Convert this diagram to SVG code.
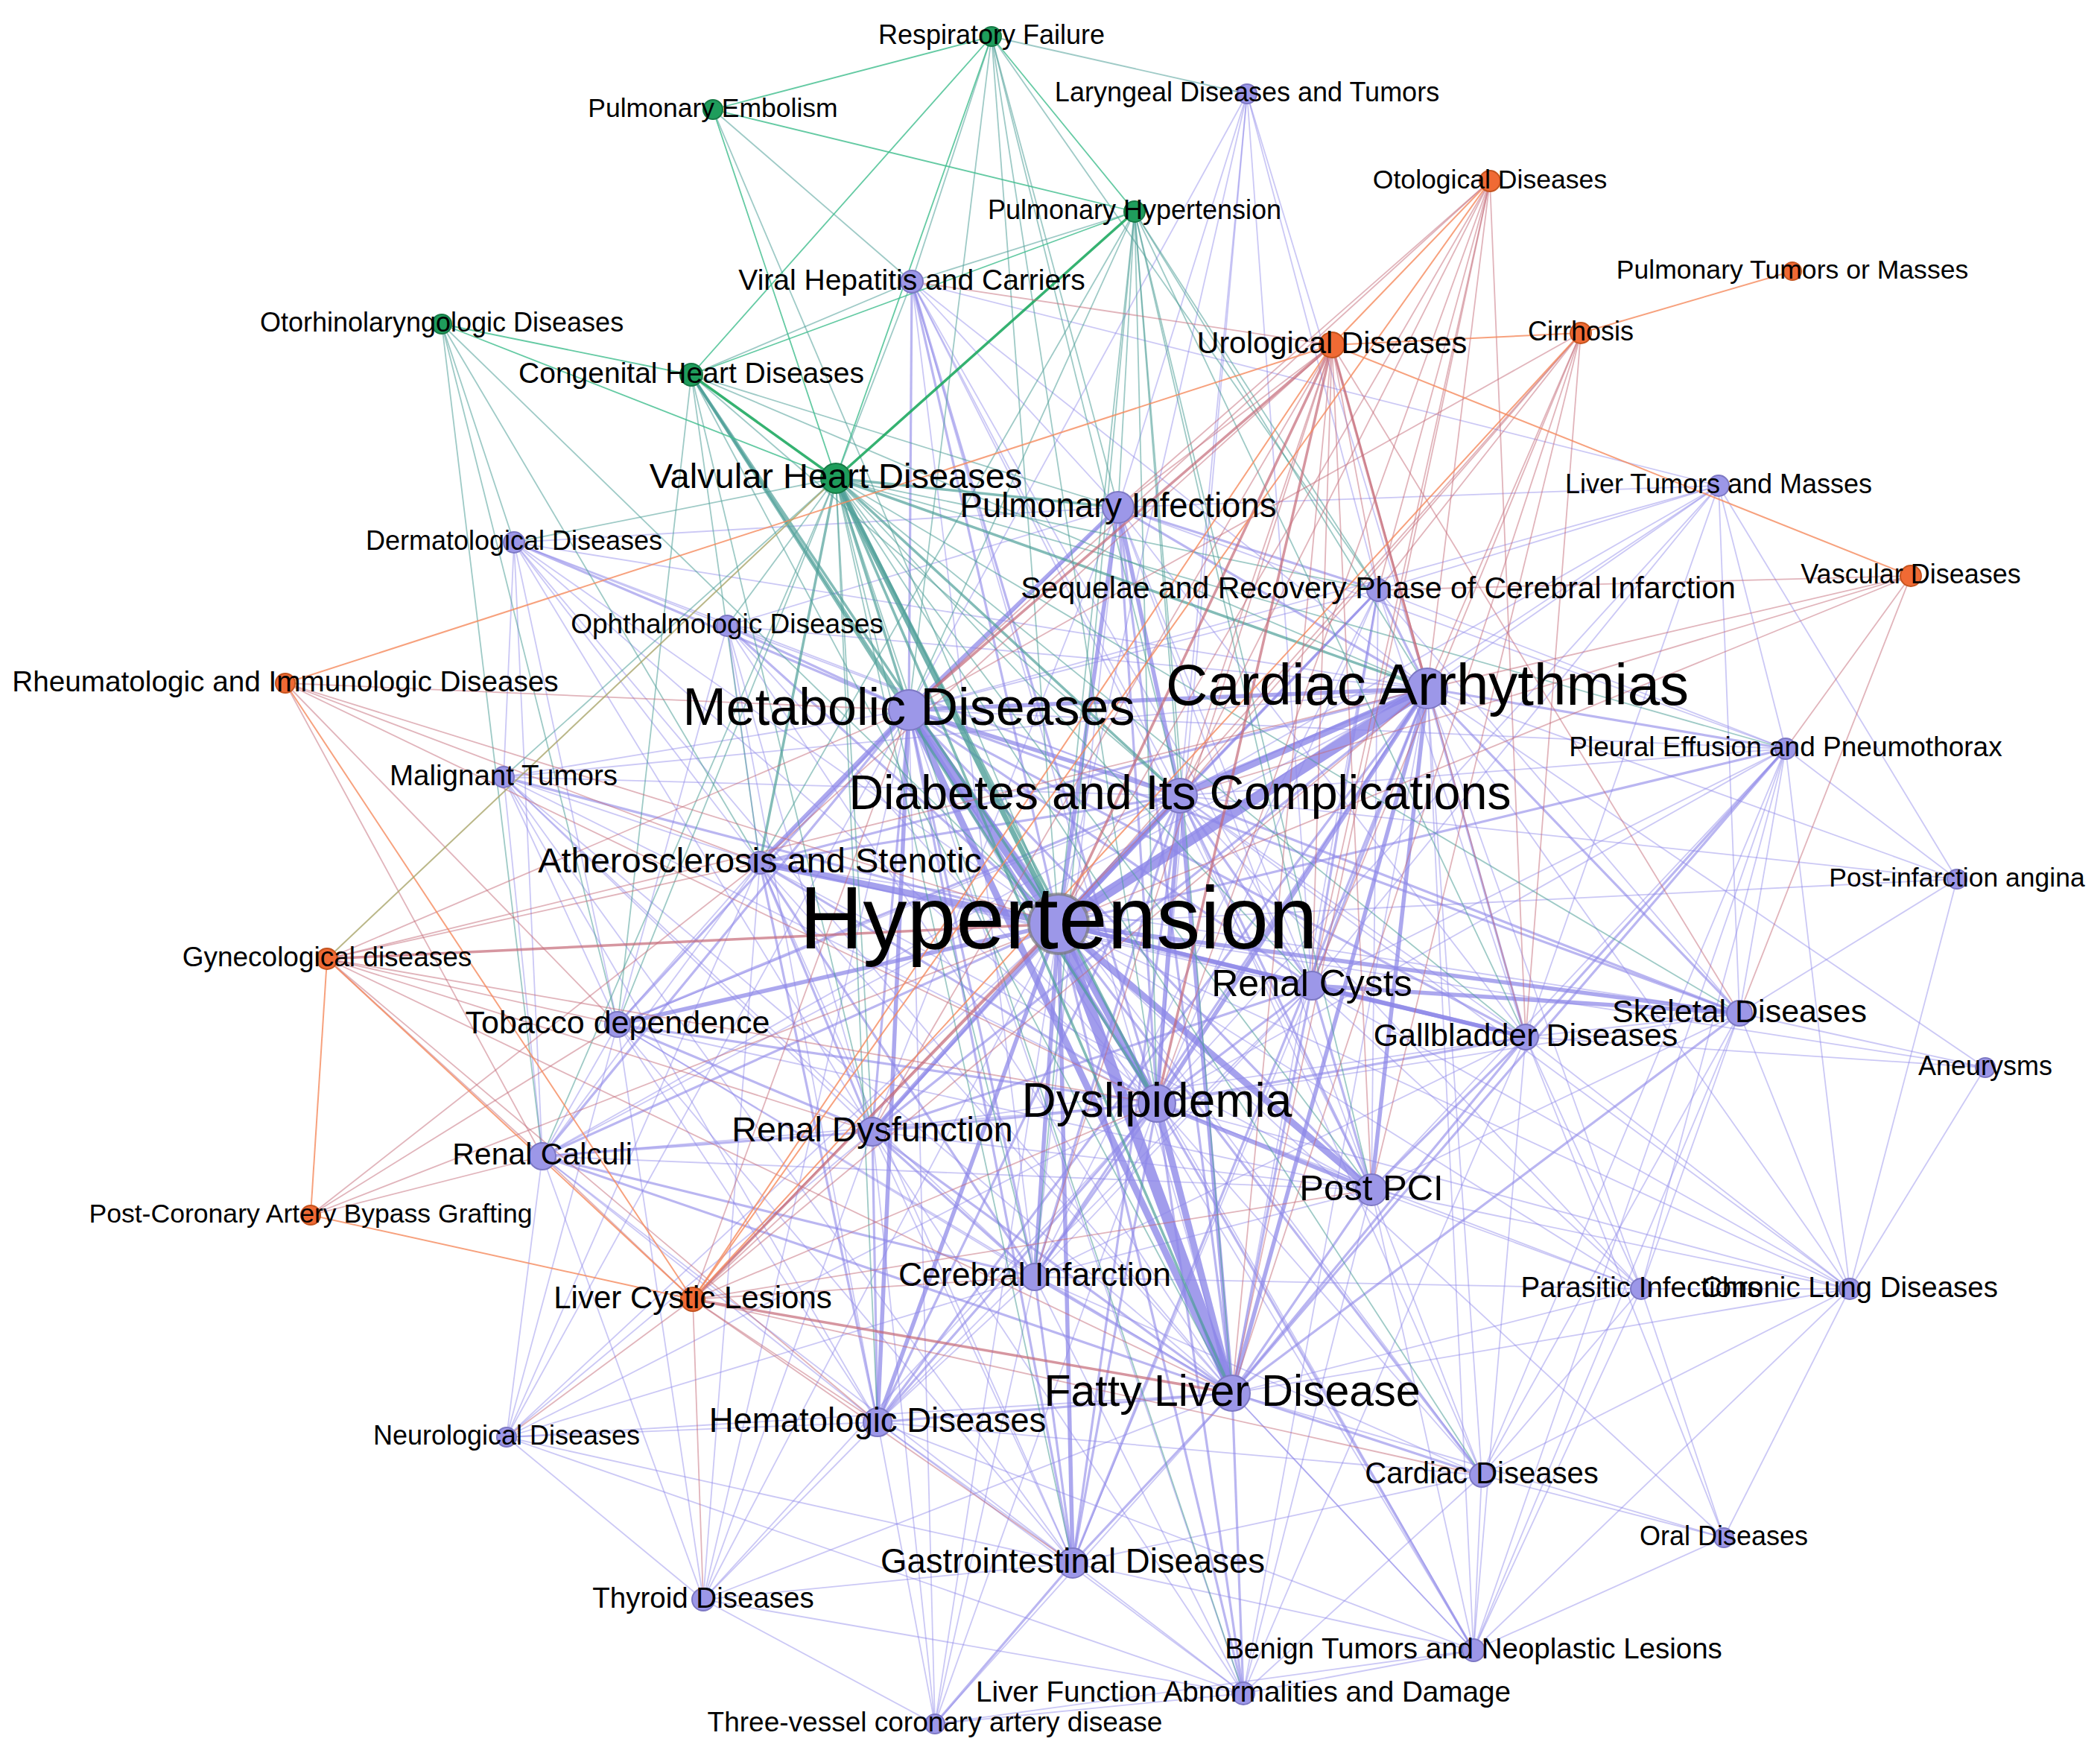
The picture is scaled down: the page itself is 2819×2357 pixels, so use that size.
<svg xmlns="http://www.w3.org/2000/svg" width="2819" height="2357" viewBox="0 0 2819 2357">
<style>
text{font-family:"Liberation Sans",Arial,Helvetica,sans-serif;fill:#000;text-anchor:middle}
.np{fill:#9c97e8;stroke:#7d78c4;stroke-width:2}
.ng{fill:#1f9d5c;stroke:#177a46;stroke-width:2}
.no{fill:#f06a34;stroke:#c4541f;stroke-width:2}
.ring{fill:#9c97e8;stroke:#777;stroke-width:4;stroke-opacity:.7}
.p1{stroke:#8c86e8;stroke-width:1.8;stroke-opacity:.45}
.p2{stroke:#8c86e8;stroke-width:3.2;stroke-opacity:.6}
.p3{stroke:#8c86e8;stroke-width:5.5;stroke-opacity:.72}
.p4{stroke:#8c86e8;stroke-width:9;stroke-opacity:.78}
.p5{stroke:#8c86e8;stroke-width:15;stroke-opacity:.82}
.t1{stroke:#4f9f98;stroke-width:1.8;stroke-opacity:.55}
.t2{stroke:#4f9f98;stroke-width:3.5;stroke-opacity:.7}
.t3{stroke:#4f9f98;stroke-width:7;stroke-opacity:.8}
.g1{stroke:#3dbd8c;stroke-width:1.8;stroke-opacity:.8}
.g2{stroke:#1faa62;stroke-width:3.5;stroke-opacity:.9}
.r1{stroke:#c46a78;stroke-width:1.8;stroke-opacity:.5}
.r2{stroke:#c46a78;stroke-width:3.5;stroke-opacity:.7}
.o1{stroke:#f5895c;stroke-width:2;stroke-opacity:.8}
.ol{stroke:#a9a56a;stroke-width:2;stroke-opacity:.8}
</style>
<rect width="2819" height="2357" fill="#fff"/>
<g id="connectors" fill="none">
<g class="p1">
<line x1="1421" y1="1240" x2="1978" y2="2215"/><line x1="1421" y1="1240" x2="1255" y2="2314"/><line x1="1421" y1="1240" x2="944" y2="2147"/><line x1="1421" y1="1240" x2="680" y2="1929"/><line x1="1421" y1="1240" x2="690" y2="728"/><line x1="1421" y1="1240" x2="2307" y2="652"/><line x1="1421" y1="1240" x2="2627" y2="1180"/><line x1="1421" y1="1240" x2="2665" y2="1433"/><line x1="1421" y1="1240" x2="2203" y2="1730"/><line x1="1421" y1="1240" x2="2483" y2="1730"/><line x1="1421" y1="1240" x2="2314" y2="2064"/><line x1="1421" y1="1240" x2="1674" y2="126"/>
<line x1="1220" y1="953" x2="676" y2="1043"/><line x1="1220" y1="953" x2="1850" y2="792"/><line x1="1220" y1="953" x2="2397" y2="1005"/><line x1="1220" y1="953" x2="1989" y2="1980"/><line x1="1220" y1="953" x2="1669" y2="2273"/><line x1="1220" y1="953" x2="944" y2="2147"/><line x1="1220" y1="953" x2="680" y2="1929"/><line x1="1220" y1="953" x2="1978" y2="2215"/><line x1="1220" y1="953" x2="1255" y2="2314"/><line x1="1220" y1="953" x2="2307" y2="652"/><line x1="1220" y1="953" x2="1674" y2="126"/>
<line x1="1916" y1="924" x2="2307" y2="652"/><line x1="1916" y1="924" x2="1224" y2="378"/><line x1="1916" y1="924" x2="1989" y2="1980"/><line x1="1916" y1="924" x2="2203" y2="1730"/><line x1="1916" y1="924" x2="2483" y2="1730"/><line x1="1916" y1="924" x2="1978" y2="2215"/><line x1="1916" y1="924" x2="1669" y2="2273"/><line x1="1916" y1="924" x2="976" y2="840"/><line x1="1916" y1="924" x2="690" y2="728"/><line x1="1916" y1="924" x2="676" y2="1043"/><line x1="1916" y1="924" x2="728" y2="1552"/><line x1="1916" y1="924" x2="2627" y2="1180"/><line x1="1916" y1="924" x2="2665" y2="1433"/><line x1="1916" y1="924" x2="1674" y2="126"/>
<line x1="1584" y1="1068" x2="2048" y2="1392"/><line x1="1584" y1="1068" x2="829" y2="1375"/><line x1="1584" y1="1068" x2="1224" y2="378"/><line x1="1584" y1="1068" x2="2397" y2="1005"/><line x1="1584" y1="1068" x2="2307" y2="652"/><line x1="1584" y1="1068" x2="1989" y2="1980"/><line x1="1584" y1="1068" x2="976" y2="840"/><line x1="1584" y1="1068" x2="676" y2="1043"/><line x1="1584" y1="1068" x2="1674" y2="126"/><line x1="1584" y1="1068" x2="728" y2="1552"/><line x1="1584" y1="1068" x2="2203" y2="1730"/><line x1="1584" y1="1068" x2="2483" y2="1730"/>
<line x1="1553" y1="1481" x2="2335" y2="1360"/><line x1="1553" y1="1481" x2="1989" y2="1980"/><line x1="1553" y1="1481" x2="2203" y2="1730"/><line x1="1553" y1="1481" x2="2483" y2="1730"/><line x1="1553" y1="1481" x2="1255" y2="2314"/><line x1="1553" y1="1481" x2="728" y2="1552"/><line x1="1553" y1="1481" x2="676" y2="1043"/><line x1="1553" y1="1481" x2="680" y2="1929"/><line x1="1553" y1="1481" x2="944" y2="2147"/><line x1="1553" y1="1481" x2="2397" y2="1005"/>
<line x1="1654" y1="1870" x2="1978" y2="2215"/><line x1="1654" y1="1870" x2="1255" y2="2314"/><line x1="1654" y1="1870" x2="944" y2="2147"/><line x1="1654" y1="1870" x2="1020" y2="1158"/><line x1="1654" y1="1870" x2="829" y2="1375"/><line x1="1654" y1="1870" x2="680" y2="1929"/><line x1="1654" y1="1870" x2="2203" y2="1730"/><line x1="1654" y1="1870" x2="2483" y2="1730"/><line x1="1654" y1="1870" x2="2314" y2="2064"/><line x1="1654" y1="1870" x2="1850" y2="792"/>
<line x1="1761" y1="1323" x2="1389" y2="1714"/><line x1="1761" y1="1323" x2="1440" y2="2098"/><line x1="1761" y1="1323" x2="2397" y2="1005"/><line x1="1761" y1="1323" x2="2483" y2="1730"/><line x1="1761" y1="1323" x2="2203" y2="1730"/><line x1="1761" y1="1323" x2="1178" y2="1909"/><line x1="1761" y1="1323" x2="1020" y2="1158"/>
<line x1="1501" y1="681" x2="1224" y2="378"/><line x1="1501" y1="681" x2="1020" y2="1158"/><line x1="1501" y1="681" x2="1171" y2="1519"/><line x1="1501" y1="681" x2="1389" y2="1714"/><line x1="1501" y1="681" x2="2307" y2="652"/><line x1="1501" y1="681" x2="2397" y2="1005"/><line x1="1501" y1="681" x2="1761" y2="1323"/><line x1="1501" y1="681" x2="1841" y2="1597"/><line x1="1501" y1="681" x2="2048" y2="1392"/><line x1="1501" y1="681" x2="1674" y2="126"/>
<line x1="1224" y1="378" x2="1654" y2="1870"/><line x1="1224" y1="378" x2="1841" y2="1597"/><line x1="1224" y1="378" x2="1389" y2="1714"/><line x1="1224" y1="378" x2="2307" y2="652"/><line x1="1224" y1="378" x2="1761" y2="1323"/>
<line x1="728" y1="1552" x2="1178" y2="1909"/><line x1="728" y1="1552" x2="1440" y2="2098"/><line x1="728" y1="1552" x2="829" y2="1375"/><line x1="728" y1="1552" x2="1020" y2="1158"/><line x1="728" y1="1552" x2="680" y2="1929"/><line x1="728" y1="1552" x2="944" y2="2147"/><line x1="728" y1="1552" x2="1841" y2="1597"/>
<line x1="829" y1="1375" x2="1389" y2="1714"/><line x1="829" y1="1375" x2="1020" y2="1158"/><line x1="829" y1="1375" x2="1178" y2="1909"/><line x1="829" y1="1375" x2="1440" y2="2098"/><line x1="829" y1="1375" x2="1841" y2="1597"/><line x1="829" y1="1375" x2="676" y2="1043"/><line x1="829" y1="1375" x2="680" y2="1929"/><line x1="829" y1="1375" x2="944" y2="2147"/>
<line x1="1020" y1="1158" x2="676" y2="1043"/><line x1="1020" y1="1158" x2="976" y2="840"/><line x1="1020" y1="1158" x2="690" y2="728"/><line x1="1020" y1="1158" x2="1841" y2="1597"/><line x1="1020" y1="1158" x2="1440" y2="2098"/><line x1="1020" y1="1158" x2="680" y2="1929"/><line x1="1020" y1="1158" x2="944" y2="2147"/><line x1="1020" y1="1158" x2="2048" y2="1392"/><line x1="1020" y1="1158" x2="2335" y2="1360"/>
<line x1="1171" y1="1519" x2="1440" y2="2098"/><line x1="1171" y1="1519" x2="1841" y2="1597"/><line x1="1171" y1="1519" x2="680" y2="1929"/><line x1="1171" y1="1519" x2="944" y2="2147"/><line x1="1171" y1="1519" x2="1255" y2="2314"/><line x1="1171" y1="1519" x2="2048" y2="1392"/><line x1="1171" y1="1519" x2="1669" y2="2273"/>
<line x1="1389" y1="1714" x2="1178" y2="1909"/><line x1="1389" y1="1714" x2="1841" y2="1597"/><line x1="1389" y1="1714" x2="1255" y2="2314"/><line x1="1389" y1="1714" x2="1669" y2="2273"/><line x1="1389" y1="1714" x2="1989" y2="1980"/><line x1="1389" y1="1714" x2="2203" y2="1730"/><line x1="1389" y1="1714" x2="2048" y2="1392"/><line x1="1389" y1="1714" x2="680" y2="1929"/>
<line x1="1178" y1="1909" x2="1440" y2="2098"/><line x1="1178" y1="1909" x2="680" y2="1929"/><line x1="1178" y1="1909" x2="944" y2="2147"/><line x1="1178" y1="1909" x2="1255" y2="2314"/><line x1="1178" y1="1909" x2="1669" y2="2273"/><line x1="1178" y1="1909" x2="1978" y2="2215"/><line x1="1178" y1="1909" x2="1989" y2="1980"/>
<line x1="1440" y1="2098" x2="1669" y2="2273"/><line x1="1440" y1="2098" x2="1978" y2="2215"/><line x1="1440" y1="2098" x2="944" y2="2147"/><line x1="1440" y1="2098" x2="1989" y2="1980"/><line x1="1440" y1="2098" x2="680" y2="1929"/>
<line x1="1841" y1="1597" x2="2335" y2="1360"/><line x1="1841" y1="1597" x2="1989" y2="1980"/><line x1="1841" y1="1597" x2="2203" y2="1730"/><line x1="1841" y1="1597" x2="2483" y2="1730"/><line x1="1841" y1="1597" x2="1669" y2="2273"/><line x1="1841" y1="1597" x2="2397" y2="1005"/>
<line x1="2048" y1="1392" x2="2335" y2="1360"/><line x1="2048" y1="1392" x2="2483" y2="1730"/><line x1="2048" y1="1392" x2="2203" y2="1730"/><line x1="2048" y1="1392" x2="1978" y2="2215"/><line x1="2048" y1="1392" x2="2314" y2="2064"/><line x1="2048" y1="1392" x2="1669" y2="2273"/><line x1="2048" y1="1392" x2="2665" y2="1433"/>
<line x1="2335" y1="1360" x2="2397" y2="1005"/><line x1="2335" y1="1360" x2="2483" y2="1730"/><line x1="2335" y1="1360" x2="2665" y2="1433"/><line x1="2335" y1="1360" x2="2203" y2="1730"/><line x1="2335" y1="1360" x2="2627" y2="1180"/><line x1="2335" y1="1360" x2="1989" y2="1980"/><line x1="2335" y1="1360" x2="1978" y2="2215"/><line x1="2335" y1="1360" x2="2307" y2="652"/>
<line x1="2397" y1="1005" x2="2627" y2="1180"/><line x1="2397" y1="1005" x2="2483" y2="1730"/><line x1="2397" y1="1005" x2="2307" y2="652"/><line x1="2397" y1="1005" x2="1850" y2="792"/><line x1="2397" y1="1005" x2="2203" y2="1730"/><line x1="2397" y1="1005" x2="1989" y2="1980"/><line x1="2397" y1="1005" x2="1978" y2="2215"/>
<line x1="2307" y1="652" x2="2627" y2="1180"/><line x1="2307" y1="652" x2="1850" y2="792"/><line x1="2307" y1="652" x2="1761" y2="1323"/><line x1="2307" y1="652" x2="2048" y2="1392"/><line x1="2307" y1="652" x2="1553" y2="1481"/>
<line x1="1989" y1="1980" x2="1978" y2="2215"/><line x1="1989" y1="1980" x2="2314" y2="2064"/><line x1="1989" y1="1980" x2="2203" y2="1730"/><line x1="1989" y1="1980" x2="2483" y2="1730"/><line x1="1989" y1="1980" x2="1669" y2="2273"/>
<line x1="2203" y1="1730" x2="2483" y2="1730"/><line x1="2203" y1="1730" x2="2314" y2="2064"/><line x1="2203" y1="1730" x2="1978" y2="2215"/><line x1="2483" y1="1730" x2="2314" y2="2064"/><line x1="2483" y1="1730" x2="1978" y2="2215"/><line x1="2483" y1="1730" x2="2627" y2="1180"/><line x1="2483" y1="1730" x2="2665" y2="1433"/>
<line x1="680" y1="1929" x2="944" y2="2147"/><line x1="680" y1="1929" x2="1669" y2="2273"/><line x1="944" y1="2147" x2="1255" y2="2314"/><line x1="944" y1="2147" x2="1669" y2="2273"/><line x1="1255" y1="2314" x2="1669" y2="2273"/><line x1="1255" y1="2314" x2="1978" y2="2215"/><line x1="1669" y1="2273" x2="1978" y2="2215"/><line x1="2314" y1="2064" x2="1978" y2="2215"/>
<line x1="1674" y1="126" x2="1850" y2="792"/><line x1="1674" y1="126" x2="1761" y2="1323"/><line x1="1674" y1="126" x2="1553" y2="1481"/>
<line x1="690" y1="728" x2="976" y2="840"/><line x1="690" y1="728" x2="829" y2="1375"/><line x1="690" y1="728" x2="1171" y2="1519"/><line x1="690" y1="728" x2="1584" y2="1068"/><line x1="690" y1="728" x2="676" y2="1043"/><line x1="690" y1="728" x2="1501" y2="681"/><line x1="690" y1="728" x2="1553" y2="1481"/><line x1="690" y1="728" x2="728" y2="1552"/><line x1="690" y1="728" x2="1654" y2="1870"/>
<line x1="976" y1="840" x2="1553" y2="1481"/><line x1="976" y1="840" x2="829" y2="1375"/><line x1="976" y1="840" x2="1501" y2="681"/><line x1="976" y1="840" x2="1171" y2="1519"/><line x1="976" y1="840" x2="1178" y2="1909"/><line x1="976" y1="840" x2="1654" y2="1870"/>
<line x1="676" y1="1043" x2="1171" y2="1519"/><line x1="676" y1="1043" x2="1389" y2="1714"/><line x1="676" y1="1043" x2="1654" y2="1870"/><line x1="676" y1="1043" x2="728" y2="1552"/><line x1="676" y1="1043" x2="1178" y2="1909"/><line x1="676" y1="1043" x2="1440" y2="2098"/>
<line x1="2627" y1="1180" x2="1584" y2="1068"/><line x1="1850" y1="792" x2="1389" y2="1714"/><line x1="1850" y1="792" x2="1553" y2="1481"/><line x1="1850" y1="792" x2="1841" y2="1597"/><line x1="1850" y1="792" x2="2048" y2="1392"/><line x1="1850" y1="792" x2="2335" y2="1360"/>
<line x1="1654" y1="1870" x2="1978" y2="2215"/><line x1="1841" y1="1597" x2="1978" y2="2215"/>
</g>
<g class="p2">
<line x1="1421" y1="1240" x2="728" y2="1552"/><line x1="1421" y1="1240" x2="1850" y2="792"/><line x1="1421" y1="1240" x2="2397" y2="1005"/><line x1="1421" y1="1240" x2="1224" y2="378"/><line x1="1421" y1="1240" x2="1989" y2="1980"/><line x1="1421" y1="1240" x2="1669" y2="2273"/><line x1="1421" y1="1240" x2="976" y2="840"/><line x1="1421" y1="1240" x2="676" y2="1043"/>
<line x1="1220" y1="953" x2="1761" y2="1323"/><line x1="1220" y1="953" x2="1841" y2="1597"/><line x1="1220" y1="953" x2="1389" y2="1714"/><line x1="1220" y1="953" x2="1171" y2="1519"/><line x1="1220" y1="953" x2="1440" y2="2098"/><line x1="1220" y1="953" x2="829" y2="1375"/><line x1="1220" y1="953" x2="1224" y2="378"/><line x1="1220" y1="953" x2="976" y2="840"/><line x1="1220" y1="953" x2="690" y2="728"/><line x1="1220" y1="953" x2="2048" y2="1392"/><line x1="1220" y1="953" x2="2335" y2="1360"/><line x1="1220" y1="953" x2="728" y2="1552"/>
<line x1="1916" y1="924" x2="1501" y2="681"/><line x1="1916" y1="924" x2="1761" y2="1323"/><line x1="1916" y1="924" x2="1020" y2="1158"/><line x1="1916" y1="924" x2="1850" y2="792"/><line x1="1916" y1="924" x2="2397" y2="1005"/><line x1="1916" y1="924" x2="2048" y2="1392"/><line x1="1916" y1="924" x2="2335" y2="1360"/><line x1="1916" y1="924" x2="1389" y2="1714"/><line x1="1916" y1="924" x2="1171" y2="1519"/><line x1="1916" y1="924" x2="1178" y2="1909"/><line x1="1916" y1="924" x2="1440" y2="2098"/><line x1="1916" y1="924" x2="829" y2="1375"/>
<line x1="1584" y1="1068" x2="1761" y2="1323"/><line x1="1584" y1="1068" x2="1841" y2="1597"/><line x1="1584" y1="1068" x2="1020" y2="1158"/><line x1="1584" y1="1068" x2="1389" y2="1714"/><line x1="1584" y1="1068" x2="1171" y2="1519"/><line x1="1584" y1="1068" x2="1178" y2="1909"/><line x1="1584" y1="1068" x2="1440" y2="2098"/><line x1="1584" y1="1068" x2="2335" y2="1360"/><line x1="1584" y1="1068" x2="1850" y2="792"/>
<line x1="1553" y1="1481" x2="1761" y2="1323"/><line x1="1553" y1="1481" x2="1389" y2="1714"/><line x1="1553" y1="1481" x2="1171" y2="1519"/><line x1="1553" y1="1481" x2="1178" y2="1909"/><line x1="1553" y1="1481" x2="1440" y2="2098"/><line x1="1553" y1="1481" x2="1020" y2="1158"/><line x1="1553" y1="1481" x2="829" y2="1375"/><line x1="1553" y1="1481" x2="2048" y2="1392"/><line x1="1553" y1="1481" x2="1501" y2="681"/><line x1="1553" y1="1481" x2="1669" y2="2273"/><line x1="1553" y1="1481" x2="1978" y2="2215"/>
<line x1="1654" y1="1870" x2="1841" y2="1597"/><line x1="1654" y1="1870" x2="1761" y2="1323"/><line x1="1654" y1="1870" x2="1389" y2="1714"/><line x1="1654" y1="1870" x2="1440" y2="2098"/><line x1="1654" y1="1870" x2="1178" y2="1909"/><line x1="1654" y1="1870" x2="1171" y2="1519"/><line x1="1654" y1="1870" x2="2048" y2="1392"/><line x1="1654" y1="1870" x2="2335" y2="1360"/><line x1="1654" y1="1870" x2="2397" y2="1005"/><line x1="1654" y1="1870" x2="1989" y2="1980"/><line x1="1654" y1="1870" x2="1669" y2="2273"/><line x1="1654" y1="1870" x2="1501" y2="681"/>
<line x1="1761" y1="1323" x2="1841" y2="1597"/><line x1="1761" y1="1323" x2="1171" y2="1519"/><line x1="1224" y1="378" x2="1553" y2="1481"/><line x1="728" y1="1552" x2="1171" y2="1519"/><line x1="728" y1="1552" x2="1389" y2="1714"/><line x1="829" y1="1375" x2="1171" y2="1519"/><line x1="1020" y1="1158" x2="1171" y2="1519"/><line x1="1020" y1="1158" x2="1389" y2="1714"/><line x1="1020" y1="1158" x2="1178" y2="1909"/><line x1="1171" y1="1519" x2="1389" y2="1714"/><line x1="1171" y1="1519" x2="1178" y2="1909"/><line x1="1389" y1="1714" x2="1440" y2="2098"/><line x1="1440" y1="2098" x2="1255" y2="2314"/><line x1="1841" y1="1597" x2="2048" y2="1392"/><line x1="2048" y1="1392" x2="2397" y2="1005"/><line x1="1501" y1="681" x2="1850" y2="792"/><line x1="1850" y1="792" x2="1761" y2="1323"/><line x1="728" y1="1552" x2="1654" y2="1870"/>
</g>
<g class="p3">
<line x1="1421" y1="1240" x2="1761" y2="1323"/><line x1="1421" y1="1240" x2="2335" y2="1360"/><line x1="1421" y1="1240" x2="1389" y2="1714"/><line x1="1421" y1="1240" x2="1171" y2="1519"/><line x1="1421" y1="1240" x2="1178" y2="1909"/><line x1="1421" y1="1240" x2="1440" y2="2098"/><line x1="1421" y1="1240" x2="829" y2="1375"/><line x1="1421" y1="1240" x2="1501" y2="681"/><line x1="1421" y1="1240" x2="2048" y2="1392"/>
<line x1="1220" y1="953" x2="1916" y2="924"/><line x1="1220" y1="953" x2="1584" y2="1068"/><line x1="1220" y1="953" x2="1553" y2="1481"/><line x1="1220" y1="953" x2="1020" y2="1158"/><line x1="1220" y1="953" x2="1178" y2="1909"/><line x1="1220" y1="953" x2="1501" y2="681"/>
<line x1="1916" y1="924" x2="1654" y2="1870"/><line x1="1916" y1="924" x2="1553" y2="1481"/><line x1="1916" y1="924" x2="1841" y2="1597"/><line x1="1584" y1="1068" x2="1553" y2="1481"/><line x1="1584" y1="1068" x2="1654" y2="1870"/><line x1="1584" y1="1068" x2="1501" y2="681"/><line x1="1761" y1="1323" x2="2335" y2="1360"/><line x1="1761" y1="1323" x2="2048" y2="1392"/><line x1="1553" y1="1481" x2="1841" y2="1597"/>
</g>
<g class="p4">
<line x1="1421" y1="1240" x2="1584" y2="1068"/><line x1="1421" y1="1240" x2="1553" y2="1481"/><line x1="1421" y1="1240" x2="1020" y2="1158"/><line x1="1421" y1="1240" x2="1841" y2="1597"/><line x1="1916" y1="924" x2="1584" y2="1068"/><line x1="1220" y1="953" x2="1654" y2="1870"/><line x1="1553" y1="1481" x2="1654" y2="1870"/>
</g>
<g class="p5">
<line x1="1421" y1="1240" x2="1220" y2="953"/><line x1="1421" y1="1240" x2="1916" y2="924"/><line x1="1421" y1="1240" x2="1654" y2="1870"/>
</g>
<g class="t1">
<line x1="1331" y1="49" x2="1224" y2="378"/><line x1="1331" y1="49" x2="1501" y2="681"/><line x1="1331" y1="49" x2="1421" y2="1240"/><line x1="1331" y1="49" x2="1220" y2="953"/><line x1="1331" y1="49" x2="1584" y2="1068"/><line x1="1331" y1="49" x2="1674" y2="126"/><line x1="1331" y1="49" x2="1850" y2="792"/><line x1="1331" y1="49" x2="1553" y2="1481"/>
<line x1="957" y1="147" x2="1421" y2="1240"/><line x1="957" y1="147" x2="1224" y2="378"/>
<line x1="1523" y1="284" x2="1224" y2="378"/><line x1="1523" y1="284" x2="1421" y2="1240"/><line x1="1523" y1="284" x2="1220" y2="953"/><line x1="1523" y1="284" x2="1584" y2="1068"/><line x1="1523" y1="284" x2="1916" y2="924"/><line x1="1523" y1="284" x2="1501" y2="681"/><line x1="1523" y1="284" x2="1850" y2="792"/><line x1="1523" y1="284" x2="1761" y2="1323"/><line x1="1523" y1="284" x2="1553" y2="1481"/><line x1="1523" y1="284" x2="1020" y2="1158"/><line x1="1523" y1="284" x2="1654" y2="1870"/><line x1="1523" y1="284" x2="1841" y2="1597"/><line x1="1523" y1="284" x2="2048" y2="1392"/><line x1="1523" y1="284" x2="1389" y2="1714"/>
<line x1="593" y1="435" x2="690" y2="728"/><line x1="593" y1="435" x2="829" y2="1375"/><line x1="593" y1="435" x2="1421" y2="1240"/><line x1="593" y1="435" x2="1020" y2="1158"/><line x1="593" y1="435" x2="728" y2="1552"/>
<line x1="928" y1="503" x2="1020" y2="1158"/><line x1="928" y1="503" x2="1584" y2="1068"/><line x1="928" y1="503" x2="1916" y2="924"/><line x1="928" y1="503" x2="1501" y2="681"/><line x1="928" y1="503" x2="1171" y2="1519"/><line x1="928" y1="503" x2="1654" y2="1870"/><line x1="928" y1="503" x2="829" y2="1375"/><line x1="928" y1="503" x2="1224" y2="378"/>
<line x1="1122" y1="642" x2="1761" y2="1323"/><line x1="1122" y1="642" x2="1841" y2="1597"/><line x1="1122" y1="642" x2="1389" y2="1714"/><line x1="1122" y1="642" x2="1171" y2="1519"/><line x1="1122" y1="642" x2="829" y2="1375"/><line x1="1122" y1="642" x2="690" y2="728"/><line x1="1122" y1="642" x2="976" y2="840"/><line x1="1122" y1="642" x2="676" y2="1043"/><line x1="1122" y1="642" x2="1850" y2="792"/><line x1="1122" y1="642" x2="2048" y2="1392"/><line x1="1122" y1="642" x2="2397" y2="1005"/><line x1="1122" y1="642" x2="2335" y2="1360"/><line x1="1122" y1="642" x2="1178" y2="1909"/><line x1="1122" y1="642" x2="1989" y2="1980"/><line x1="1122" y1="642" x2="1440" y2="2098"/><line x1="1122" y1="642" x2="728" y2="1552"/><line x1="1122" y1="642" x2="1224" y2="378"/><line x1="1122" y1="642" x2="1669" y2="2273"/>
</g>
<g class="t2">
<line x1="1122" y1="642" x2="1220" y2="953"/><line x1="1122" y1="642" x2="1584" y2="1068"/><line x1="1122" y1="642" x2="1916" y2="924"/><line x1="1122" y1="642" x2="1553" y2="1481"/><line x1="1122" y1="642" x2="1654" y2="1870"/><line x1="1122" y1="642" x2="1020" y2="1158"/><line x1="1122" y1="642" x2="1501" y2="681"/><line x1="928" y1="503" x2="1421" y2="1240"/><line x1="928" y1="503" x2="1220" y2="953"/><line x1="928" y1="503" x2="1553" y2="1481"/>
</g>
<g class="t3">
<line x1="1122" y1="642" x2="1421" y2="1240"/>
</g>
<g class="g1">
<line x1="1331" y1="49" x2="957" y2="147"/><line x1="1331" y1="49" x2="1523" y2="284"/><line x1="957" y1="147" x2="1523" y2="284"/><line x1="957" y1="147" x2="1122" y2="642"/><line x1="593" y1="435" x2="928" y2="503"/><line x1="593" y1="435" x2="1122" y2="642"/><line x1="1523" y1="284" x2="928" y2="503"/><line x1="1331" y1="49" x2="1122" y2="642"/><line x1="1331" y1="49" x2="928" y2="503"/>
</g>
<g class="g2">
<line x1="1523" y1="284" x2="1122" y2="642"/><line x1="928" y1="503" x2="1122" y2="642"/>
</g>
<g class="r1">
<line x1="2000" y1="243" x2="1421" y2="1240"/><line x1="2000" y1="243" x2="1220" y2="953"/><line x1="2000" y1="243" x2="1916" y2="924"/><line x1="2000" y1="243" x2="1584" y2="1068"/><line x1="2000" y1="243" x2="1501" y2="681"/><line x1="2000" y1="243" x2="1761" y2="1323"/><line x1="2000" y1="243" x2="1553" y2="1481"/><line x1="2000" y1="243" x2="1850" y2="792"/><line x1="2000" y1="243" x2="1654" y2="1870"/><line x1="2000" y1="243" x2="2048" y2="1392"/>
<line x1="2122" y1="447" x2="1421" y2="1240"/><line x1="2122" y1="447" x2="1916" y2="924"/><line x1="2122" y1="447" x2="1584" y2="1068"/><line x1="2122" y1="447" x2="1220" y2="953"/><line x1="2122" y1="447" x2="1654" y2="1870"/><line x1="2122" y1="447" x2="1761" y2="1323"/><line x1="2122" y1="447" x2="2048" y2="1392"/><line x1="2122" y1="447" x2="1841" y2="1597"/><line x1="2122" y1="447" x2="1850" y2="792"/>
<line x1="1788" y1="463" x2="1501" y2="681"/><line x1="1788" y1="463" x2="1761" y2="1323"/><line x1="1788" y1="463" x2="1654" y2="1870"/><line x1="1788" y1="463" x2="1841" y2="1597"/><line x1="1788" y1="463" x2="1389" y2="1714"/><line x1="1788" y1="463" x2="1850" y2="792"/><line x1="1788" y1="463" x2="1584" y2="1068"/><line x1="1788" y1="463" x2="1224" y2="378"/><line x1="1788" y1="463" x2="2048" y2="1392"/><line x1="1788" y1="463" x2="2335" y2="1360"/><line x1="1788" y1="463" x2="1020" y2="1158"/><line x1="1788" y1="463" x2="1171" y2="1519"/>
<line x1="2565" y1="773" x2="1916" y2="924"/><line x1="2565" y1="773" x2="1850" y2="792"/><line x1="2565" y1="773" x2="1584" y2="1068"/><line x1="2565" y1="773" x2="1421" y2="1240"/><line x1="2565" y1="773" x2="2335" y2="1360"/><line x1="2565" y1="773" x2="2397" y2="1005"/>
<line x1="383" y1="917" x2="1220" y2="953"/><line x1="383" y1="917" x2="1020" y2="1158"/><line x1="383" y1="917" x2="829" y2="1375"/><line x1="383" y1="917" x2="728" y2="1552"/><line x1="383" y1="917" x2="1421" y2="1240"/><line x1="383" y1="917" x2="1553" y2="1481"/>
<line x1="439" y1="1287" x2="1220" y2="953"/><line x1="439" y1="1287" x2="1020" y2="1158"/><line x1="439" y1="1287" x2="829" y2="1375"/><line x1="439" y1="1287" x2="728" y2="1552"/><line x1="439" y1="1287" x2="1171" y2="1519"/><line x1="439" y1="1287" x2="1553" y2="1481"/><line x1="439" y1="1287" x2="1654" y2="1870"/><line x1="439" y1="1287" x2="1178" y2="1909"/><line x1="439" y1="1287" x2="1916" y2="924"/>
<line x1="417" y1="1631" x2="1421" y2="1240"/><line x1="417" y1="1631" x2="728" y2="1552"/><line x1="417" y1="1631" x2="829" y2="1375"/><line x1="417" y1="1631" x2="1020" y2="1158"/>
<line x1="930" y1="1744" x2="1220" y2="953"/><line x1="930" y1="1744" x2="1553" y2="1481"/><line x1="930" y1="1744" x2="1440" y2="2098"/><line x1="930" y1="1744" x2="1178" y2="1909"/><line x1="930" y1="1744" x2="944" y2="2147"/><line x1="930" y1="1744" x2="680" y2="1929"/><line x1="930" y1="1744" x2="728" y2="1552"/><line x1="930" y1="1744" x2="1171" y2="1519"/><line x1="930" y1="1744" x2="1389" y2="1714"/><line x1="930" y1="1744" x2="1916" y2="924"/><line x1="930" y1="1744" x2="1584" y2="1068"/><line x1="930" y1="1744" x2="1841" y2="1597"/><line x1="930" y1="1744" x2="1989" y2="1980"/>
</g>
<g class="r2">
<line x1="1788" y1="463" x2="1421" y2="1240"/><line x1="1788" y1="463" x2="1220" y2="953"/><line x1="1788" y1="463" x2="1916" y2="924"/><line x1="1788" y1="463" x2="1553" y2="1481"/><line x1="930" y1="1744" x2="1421" y2="1240"/><line x1="930" y1="1744" x2="1654" y2="1870"/><line x1="439" y1="1287" x2="1421" y2="1240"/>
</g>
<g class="o1">
<line x1="2406" y1="364" x2="2122" y2="447"/><line x1="2122" y1="447" x2="1788" y2="463"/><line x1="2000" y1="243" x2="1788" y2="463"/><line x1="1788" y1="463" x2="2565" y2="773"/><line x1="383" y1="917" x2="1788" y2="463"/><line x1="439" y1="1287" x2="417" y2="1631"/><line x1="439" y1="1287" x2="930" y2="1744"/><line x1="417" y1="1631" x2="930" y2="1744"/><line x1="383" y1="917" x2="930" y2="1744"/><line x1="1788" y1="463" x2="930" y2="1744"/><line x1="2122" y1="447" x2="930" y2="1744"/><line x1="2000" y1="243" x2="930" y2="1744"/>
</g>
<g class="ol">
<line x1="439" y1="1287" x2="1122" y2="642"/>
</g>
</g>
<g id="nodes">
<g id="n-respiratory-failure"><circle class="ng" cx="1331" cy="49" r="13"/><text x="1331" y="59" font-size="36">Respiratory Failure</text></g>
<g id="n-pulmonary-embolism"><circle class="ng" cx="957" cy="147" r="13"/><text x="957" y="157" font-size="35.5">Pulmonary Embolism</text></g>
<g id="n-pulmonary-hypertension"><circle class="ng" cx="1523" cy="284" r="14"/><text x="1523" y="294" font-size="36">Pulmonary Hypertension</text></g>
<g id="n-otorhinolaryngologic"><circle class="ng" cx="593" cy="435" r="13"/><text x="593" y="445" font-size="36">Otorhinolaryngologic Diseases</text></g>
<g id="n-congenital-heart"><circle class="ng" cx="928" cy="503" r="15"/><text x="928" y="514" font-size="39">Congenital Heart Diseases</text></g>
<g id="n-valvular-heart"><circle class="ng" cx="1122" cy="642" r="20"/><text x="1122" y="655" font-size="47">Valvular Heart Diseases</text></g>
<g id="n-laryngeal"><circle class="np" cx="1674" cy="126" r="13"/><text x="1674" y="136" font-size="36">Laryngeal Diseases and Tumors</text></g>
<g id="n-viral-hepatitis"><circle class="np" cx="1224" cy="378" r="15"/><text x="1224" y="389" font-size="39">Viral Hepatitis and Carriers</text></g>
<g id="n-pulmonary-infections"><circle class="np" cx="1501" cy="681" r="21"/><text x="1501" y="694" font-size="45.5">Pulmonary Infections</text></g>
<g id="n-dermatological"><circle class="np" cx="690" cy="728" r="14"/><text x="690" y="738" font-size="36">Dermatological Diseases</text></g>
<g id="n-sequelae"><circle class="np" cx="1850" cy="792" r="15"/><text x="1850" y="803" font-size="41">Sequelae and Recovery Phase of Cerebral Infarction</text></g>
<g id="n-ophthalmologic"><circle class="np" cx="976" cy="840" r="14"/><text x="976" y="850" font-size="37">Ophthalmologic Diseases</text></g>
<g id="n-liver-tumors"><circle class="np" cx="2307" cy="652" r="14"/><text x="2307" y="662" font-size="36">Liver Tumors and Masses</text></g>
<g id="n-metabolic"><circle class="np" cx="1220" cy="953" r="27"/><text x="1220" y="973" font-size="70">Metabolic Diseases</text></g>
<g id="n-cardiac-arrhythmias"><circle class="np" cx="1916" cy="924" r="27"/><text x="1916" y="946" font-size="78">Cardiac Arrhythmias</text></g>
<g id="n-pleural-effusion"><circle class="np" cx="2397" cy="1005" r="14"/><text x="2397" y="1015" font-size="37">Pleural Effusion and Pneumothorax</text></g>
<g id="n-malignant-tumors"><circle class="np" cx="676" cy="1043" r="14"/><text x="676" y="1054" font-size="38.5">Malignant Tumors</text></g>
<g id="n-diabetes"><circle class="np" cx="1584" cy="1068" r="23"/><text x="1584" y="1086" font-size="64.5">Diabetes and Its Complications</text></g>
<g id="n-atherosclerosis"><circle class="np" cx="1020" cy="1158" r="15"/><text x="1020" y="1171" font-size="47">Atherosclerosis and Stenotic</text></g>
<g id="n-post-infarction-angina"><circle class="np" cx="2627" cy="1180" r="13"/><text x="2627" y="1190" font-size="35.5">Post-infarction angina</text></g>
<g id="n-renal-cysts"><circle class="np" cx="1761" cy="1323" r="19"/><text x="1761" y="1337" font-size="50">Renal Cysts</text></g>
<g id="n-skeletal"><circle class="np" cx="2335" cy="1360" r="17"/><text x="2335" y="1372" font-size="43">Skeletal Diseases</text></g>
<g id="n-gallbladder"><circle class="np" cx="2048" cy="1392" r="17"/><text x="2048" y="1404" font-size="43">Gallbladder Diseases</text></g>
<g id="n-aneurysms"><circle class="np" cx="2665" cy="1433" r="13"/><text x="2665" y="1443" font-size="36">Aneurysms</text></g>
<g id="n-tobacco"><circle class="np" cx="829" cy="1375" r="17"/><text x="829" y="1387" font-size="43">Tobacco dependence</text></g>
<g id="n-dyslipidemia"><circle class="np" cx="1553" cy="1481" r="25"/><text x="1553" y="1499" font-size="64">Dyslipidemia</text></g>
<g id="n-renal-dysfunction"><circle class="np" cx="1171" cy="1519" r="19"/><text x="1171" y="1532" font-size="46.5">Renal Dysfunction</text></g>
<g id="n-renal-calculi"><circle class="np" cx="728" cy="1552" r="18"/><text x="728" y="1563" font-size="41">Renal Calculi</text></g>
<g id="n-post-pci"><circle class="np" cx="1841" cy="1597" r="21"/><text x="1841" y="1611" font-size="49">Post PCI</text></g>
<g id="n-cerebral-infarction"><circle class="np" cx="1389" cy="1714" r="18"/><text x="1389" y="1726" font-size="44.5">Cerebral Infarction</text></g>
<g id="n-parasitic"><circle class="np" cx="2203" cy="1730" r="14"/><text x="2203" y="1741" font-size="38.5">Parasitic Infections</text></g>
<g id="n-chronic-lung"><circle class="np" cx="2483" cy="1730" r="14"/><text x="2483" y="1741" font-size="38.5">Chronic Lung Diseases</text></g>
<g id="n-fatty-liver"><circle class="np" cx="1654" cy="1870" r="24"/><text x="1654" y="1887" font-size="59">Fatty Liver Disease</text></g>
<g id="n-hematologic"><circle class="np" cx="1178" cy="1909" r="19"/><text x="1178" y="1922" font-size="45.5">Hematologic Diseases</text></g>
<g id="n-neurological"><circle class="np" cx="680" cy="1929" r="13"/><text x="680" y="1939" font-size="36">Neurological Diseases</text></g>
<g id="n-cardiac-diseases"><circle class="np" cx="1989" cy="1980" r="16"/><text x="1989" y="1991" font-size="40">Cardiac Diseases</text></g>
<g id="n-oral"><circle class="np" cx="2314" cy="2064" r="13"/><text x="2314" y="2074" font-size="36">Oral Diseases</text></g>
<g id="n-gastrointestinal"><circle class="np" cx="1440" cy="2098" r="20"/><text x="1440" y="2111" font-size="45.5">Gastrointestinal Diseases</text></g>
<g id="n-thyroid"><circle class="np" cx="944" cy="2147" r="15"/><text x="944" y="2158" font-size="38.5">Thyroid Diseases</text></g>
<g id="n-benign-tumors"><circle class="np" cx="1978" cy="2215" r="15"/><text x="1978" y="2226" font-size="38.5">Benign Tumors and Neoplastic Lesions</text></g>
<g id="n-liver-function"><circle class="np" cx="1669" cy="2273" r="15"/><text x="1669" y="2284" font-size="38.7">Liver Function Abnormalities and Damage</text></g>
<g id="n-three-vessel"><circle class="np" cx="1255" cy="2314" r="13"/><text x="1255" y="2324" font-size="37">Three-vessel coronary artery disease</text></g>
<g id="n-otological"><circle class="no" cx="2000" cy="243" r="14"/><text x="2000" y="253" font-size="35.6">Otological Diseases</text></g>
<g id="n-pulmonary-tumors"><circle class="no" cx="2406" cy="364" r="12"/><text x="2406" y="374" font-size="35.6">Pulmonary Tumors or Masses</text></g>
<g id="n-cirrhosis"><circle class="no" cx="2122" cy="447" r="14"/><text x="2122" y="457" font-size="36">Cirrhosis</text></g>
<g id="n-urological"><circle class="no" cx="1788" cy="463" r="17"/><text x="1788" y="474" font-size="41">Urological Diseases</text></g>
<g id="n-vascular"><circle class="no" cx="2565" cy="773" r="14"/><text x="2565" y="783" font-size="36">Vascular Diseases</text></g>
<g id="n-rheumatologic"><circle class="no" cx="383" cy="917" r="13"/><text x="383" y="928" font-size="38.7">Rheumatologic and Immunologic Diseases</text></g>
<g id="n-gynecological"><circle class="no" cx="439" cy="1287" r="14"/><text x="439" y="1297" font-size="37">Gynecological diseases</text></g>
<g id="n-post-cabg"><circle class="no" cx="417" cy="1631" r="13"/><text x="417" y="1641" font-size="35.6">Post-Coronary Artery Bypass Grafting</text></g>
<g id="n-liver-cystic"><circle class="no" cx="930" cy="1744" r="16"/><text x="930" y="1756" font-size="42">Liver Cystic Lesions</text></g>
<g id="n-hypertension"><circle class="ring" cx="1421" cy="1240" r="40"/><text x="1421" y="1273" font-size="118">Hypertension</text></g>
</g>
</svg>
